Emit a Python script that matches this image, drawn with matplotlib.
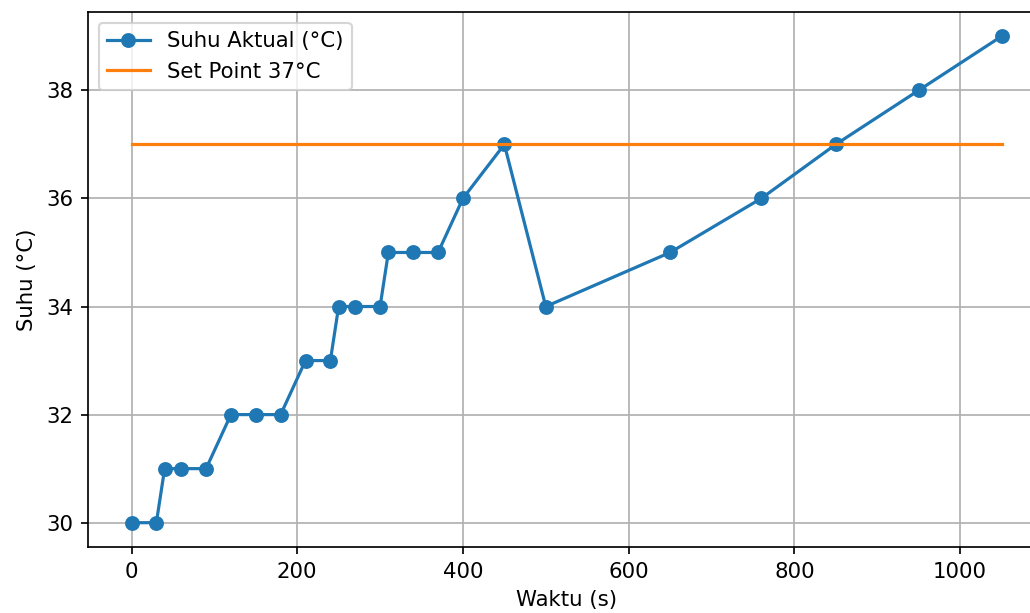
#!/usr/bin/env python3

import matplotlib

matplotlib.use("Agg")
import matplotlib.pyplot as plt


waktu = [0, 30, 40, 60, 90, 120, 150, 180, 210, 240, 250, 270, 300, 310,
         340, 370, 400, 450, 500, 650, 760, 850, 950, 1050]
suhu = [30, 30, 31, 31, 31, 32, 32, 32, 33, 33, 34, 34, 34, 35,
        35, 35, 36, 37, 34, 35, 36, 37, 38, 39]
set_point = 37


def main() -> None:
    dpi = 153
    fig = plt.figure(figsize=(1030 / dpi, 613 / dpi), dpi=dpi)
    ax = fig.add_axes([88 / 1030, 1 - 547 / 613, (1045 - 88) / 1030, (547 - 12) / 613])

    ax.plot(waktu, suhu, marker="o", label="Suhu Aktual (°C)")
    ax.plot([waktu[0], waktu[-1]], [set_point, set_point], label=f"Set Point {set_point}°C")

    ax.set_xlabel("Waktu (s)")
    ax.set_ylabel("Suhu (°C)")
    ax.grid(True)
    ax.legend(loc="upper left")

    fig.savefig("out.png", dpi=dpi)
    plt.close(fig)


if __name__ == "__main__":
    main()
